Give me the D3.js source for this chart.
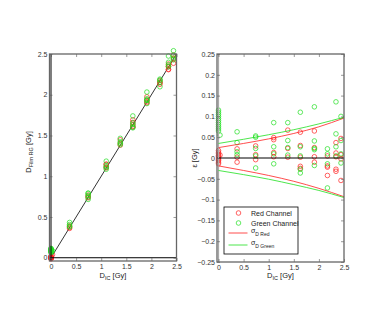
<!DOCTYPE html>
<html>
<head>
<meta charset="utf-8">
<script src="https://cdn.jsdelivr.net/npm/d3@7"></script>
<style>
  body { margin: 0; background: #fff; }
  text { font-family: "Liberation Sans", Arial, sans-serif; }
</style>
</head>
<body>
<script>
// dose levels measured by the ion chamber [Gy]
var doseLevels = [0, 0.03, 0.37, 0.74, 1.10, 1.38, 1.63, 1.91, 2.17, 2.34, 2.44];

// residuals eps = D_film - D_IC for each dose level [Gy]
var redEps = [
    [0.018, 0.014, 0.01, 0.006, 0.003, 0, -0.003, -0.006, -0.01, -0.014],
    [0.007],
    [0.022, 0.002, -0.01],
    [0.029, 0.008, -0.004],
    [0.049, 0.044, 0.013, 0.003],
    [0.067, 0.023, 0.002],
    [0.062, 0.03, 0.002, -0.02, -0.025],
    [0.065, 0.025, 0.003, -0.01],
    [0.005, -0.019, -0.022, -0.042],
    [0.037, 0.012, 0.003, -0.027, -0.032],
    [0.047, 0.008, -0.002, -0.054]
];
var greenEps = [
    [0.115, 0.11, 0.105, 0.1, 0.095, 0.09, 0.085, 0.08, 0.075, 0.07, 0.065],
    [0.055],
    [0.063, 0.037, 0.015, 0.008],
    [0.053, 0.05, 0.023, 0.005, -0.024],
    [0.085, 0.027, 0.01, -0.014],
    [0.085, 0.042, 0.025, 0.007],
    [0.11, 0.027, 0.005, -0.027, -0.036],
    [0.123, 0.041, 0.023, 0.02, -0.018],
    [0.022, 0.01, -0.014, -0.072],
    [0.135, 0.058, 0.027, 0.005],
    [0.1, 0.042, 0.01, -0.012]
];

// uncertainty bands
var sigmaDose = [0, 0.5, 1, 1.5, 2, 2.5];
var sigmaRedUp = [0.025, 0.035, 0.046, 0.059, 0.075, 0.096];
var sigmaRedLow = [-0.019, -0.03, -0.042, -0.056, -0.073, -0.093];
var sigmaGreenUp = [0.035, 0.045, 0.056, 0.068, 0.082, 0.098];
var sigmaGreenLow = [-0.03, -0.04, -0.051, -0.064, -0.078, -0.095];

var doseTicks = [0, 0.5, 1, 1.5, 2, 2.5];
var epsTicks = [-0.25, -0.2, -0.15, -0.1, -0.05, 0, 0.05, 0.1, 0.15, 0.2, 0.25];

var RED = '#ff2020';
var GREEN = '#20e020';

window.document.addEventListener('DOMContentLoaded', init, false);

function init() {
    var svg = d3.select('body').append('svg')
        .attr('width', 382)
        .attr('height', 324);

    svg.append('rect').attr('width', 382).attr('height', 324).attr('fill', '#fff');

    var redPts = flatten(redEps);
    var greenPts = flatten(greenEps);

    // ---- left panel: film dose vs ion chamber dose
    var x1 = d3.scaleLinear().domain([-0.03, 2.5]).range([49.5, 176.5]);
    var y1 = d3.scaleLinear().domain([-0.04, 2.5]).range([261, 54]);
    var g1 = svg.append('g');

    g1.append('line')
        .attr('x1', x1(0)).attr('x2', x1(2.5))
        .attr('y1', y1(0)).attr('y2', y1(2.5))
        .attr('stroke', '#000').attr('stroke-width', 0.8);

    drawPoints(g1, redPts, (d) => x1(d.dose), (d) => y1(d.dose + d.eps), RED);
    drawPoints(g1, greenPts, (d) => x1(d.dose), (d) => y1(d.dose + d.eps), GREEN);

    g1.append('line')
        .attr('x1', x1.range()[0]).attr('x2', x1.range()[1])
        .attr('y1', y1(0)).attr('y2', y1(0))
        .attr('stroke', '#000').attr('stroke-width', 1);
    g1.append('line')
        .attr('x1', x1(0)).attr('x2', x1(0))
        .attr('y1', y1.range()[0]).attr('y2', y1.range()[1])
        .attr('stroke', '#000').attr('stroke-width', 1);

    drawAxes(g1, x1, y1, doseTicks, doseTicks, d3.format('~g'));

    xLabel(g1, (x1.range()[0] + x1.range()[1]) / 2, 278);
    var yl1 = g1.append('text')
        .attr('transform', 'translate(31,152) rotate(-90)')
        .attr('text-anchor', 'middle')
        .attr('font-size', 7.5)
        .attr('fill', '#222');
    yl1.append('tspan').text('D');
    yl1.append('tspan').attr('dy', 2).attr('font-size', 5.5).text('Film RG');
    yl1.append('tspan').attr('dy', -2).text(' [Gy]');

    // ---- right panel: residuals
    var x2 = d3.scaleLinear().domain([-0.03, 2.5]).range([217, 344]);
    var y2 = d3.scaleLinear().domain([-0.25, 0.25]).range([262, 54]);
    var g2 = svg.append('g');

    drawPoints(g2, redPts, (d) => x2(d.dose), (d) => y2(d.eps), RED);
    drawPoints(g2, greenPts, (d) => x2(d.dose), (d) => y2(d.eps), GREEN);

    g2.append('line')
        .attr('x1', x2.range()[0]).attr('x2', x2.range()[1])
        .attr('y1', y2(0)).attr('y2', y2(0))
        .attr('stroke', '#000').attr('stroke-width', 1);
    g2.append('line')
        .attr('x1', x2(0)).attr('x2', x2(0))
        .attr('y1', y2.range()[0]).attr('y2', y2.range()[1])
        .attr('stroke', '#aaa').attr('stroke-width', 1.2);

    var line = d3.line()
        .x((d) => x2(d[0]))
        .y((d) => y2(d[1]))
        .curve(d3.curveMonotoneX);
    [[sigmaRedUp, RED], [sigmaRedLow, RED], [sigmaGreenUp, GREEN], [sigmaGreenLow, GREEN]]
        .forEach((s) => {
            g2.append('path')
                .attr('d', line(sigmaDose.map((v, i) => [v, s[0][i]])))
                .attr('fill', 'none')
                .attr('stroke', s[1])
                .attr('stroke-width', 0.8);
        });

    drawAxes(g2, x2, y2, doseTicks, epsTicks, (d) => d === 0 ? '0' : d3.format('~g')(d));

    xLabel(g2, (x2.range()[0] + x2.range()[1]) / 2, 278);
    g2.append('text')
        .attr('transform', 'translate(197,158) rotate(-90)')
        .attr('text-anchor', 'middle')
        .attr('font-size', 7.5)
        .attr('fill', '#222')
        .text('\u03b5 [Gy]');

    drawLegend(g2);
}

function flatten(eps) {
    var pts = [];
    doseLevels.forEach((dose, i) => {
        eps[i].forEach((e) => pts.push({dose: dose, eps: e}));
    });
    return pts;
}

function drawPoints(group, pts, fx, fy, color) {
    group.append('g').selectAll('circle')
        .data(pts)
        .enter()
            .append('circle')
            .attr('cx', fx)
            .attr('cy', fy)
            .attr('r', 2.3)
            .attr('fill', 'none')
            .attr('stroke', color)
            .attr('stroke-width', 0.7);
}

function drawAxes(group, x, y, xt, yt, yfmt) {
    var xr = x.range(), yr = y.range();

    var bottom = group.append('g')
        .attr('transform', `translate(0,${yr[0]})`)
        .call(d3.axisBottom(x).tickValues(xt).tickSize(-3).tickPadding(3).tickFormat(d3.format('~g')));
    var top = group.append('g')
        .attr('transform', `translate(0,${yr[1]})`)
        .call(d3.axisTop(x).tickValues(xt).tickSize(-3).tickFormat(''));
    var left = group.append('g')
        .attr('transform', `translate(${xr[0]},0)`)
        .call(d3.axisLeft(y).tickValues(yt).tickSize(-3).tickPadding(2).tickFormat(yfmt));
    var right = group.append('g')
        .attr('transform', `translate(${xr[1]},0)`)
        .call(d3.axisRight(y).tickValues(yt).tickSize(-3).tickFormat(''));

    [bottom, top, left, right].forEach((a) => {
        a.select('.domain').remove();
        a.selectAll('line').attr('stroke', '#555').attr('stroke-width', 0.6);
        a.selectAll('text').attr('font-size', 7).attr('fill', '#333')
            .attr('font-family', '"Liberation Sans", Arial, sans-serif');
    });

    group.append('rect')
        .attr('x', xr[0]).attr('y', yr[1])
        .attr('width', xr[1] - xr[0]).attr('height', yr[0] - yr[1])
        .attr('fill', 'none')
        .attr('stroke', '#666')
        .attr('stroke-width', 1.3);
}

function xLabel(group, cx, cy) {
    var t = group.append('text')
        .attr('x', cx).attr('y', cy)
        .attr('text-anchor', 'middle')
        .attr('font-size', 7.5)
        .attr('fill', '#222');
    t.append('tspan').text('D');
    t.append('tspan').attr('dy', 2).attr('font-size', 5.5).text('IC');
    t.append('tspan').attr('dy', -2).text(' [Gy]');
}

function drawLegend(group) {
    var lg = group.append('g');
    lg.append('rect')
        .attr('x', 224).attr('y', 207)
        .attr('width', 74).attr('height', 47)
        .attr('fill', '#fff')
        .attr('stroke', '#000')
        .attr('stroke-width', 0.8);

    var items = [
        {type: 'marker', color: RED, label: 'Red Channel', y: 213},
        {type: 'marker', color: GREEN, label: 'Green Channel', y: 223},
        {type: 'line', color: RED, label: 'Red', y: 233},
        {type: 'line', color: GREEN, label: 'Green', y: 245}
    ];

    items.forEach((it) => {
        if (it.type === 'marker') {
            lg.append('circle')
                .attr('cx', 238.5).attr('cy', it.y)
                .attr('r', 2.3)
                .attr('fill', 'none')
                .attr('stroke', it.color)
                .attr('stroke-width', 0.7);
            lg.append('text')
                .attr('x', 251).attr('y', it.y + 2.5)
                .attr('font-size', 7)
                .attr('fill', '#222')
                .text(it.label);
        } else {
            lg.append('line')
                .attr('x1', 228.5).attr('x2', 247.5)
                .attr('y1', it.y).attr('y2', it.y)
                .attr('stroke', it.color)
                .attr('stroke-width', 0.8);
            var t = lg.append('text')
                .attr('x', 251).attr('y', it.y)
                .attr('font-size', 7)
                .attr('fill', '#222');
            t.append('tspan').text('\u03c3');
            t.append('tspan').attr('dy', 3).attr('font-size', 5).text('D ' + it.label);
        }
    });
}
</script>
</body>
</html>
